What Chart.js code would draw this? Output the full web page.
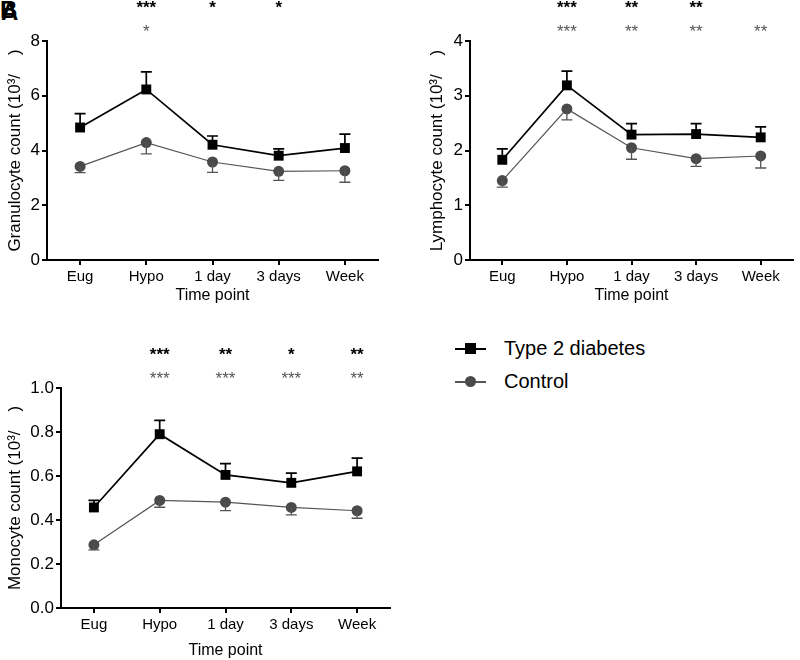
<!DOCTYPE html>
<html>
<head>
<meta charset="utf-8">
<script src="https://cdn.jsdelivr.net/npm/chart.js@4/dist/chart.umd.min.js"></script>
<style>
  html, body { margin: 0; padding: 0; background: #fff; }
  body { width: 800px; height: 660px; position: relative; overflow: hidden; font-family: "Liberation Sans", Arial, sans-serif; }
  canvas { position: absolute; }
  .tag { position: absolute; font-weight: bold; font-size: 24px; line-height: 24px; color: #000; }
  .leg { position: absolute; font-size: 20px; color: #000; }
  .legline { position: absolute; height: 2px; }
  .legsq { position: absolute; width: 11px; height: 11px; background: #000; }
  .legci { position: absolute; width: 11px; height: 11px; border-radius: 50%; background: #4a4a4a; }
</style>
</head>
<body>
<div class="tag" style="left:0px;top:-2px;">B</div>
<div class="tag" style="left:1px;top:0px;">A</div>
<canvas id="c1" width="400" height="305" style="left:0;top:0;"></canvas>
<canvas id="c2" width="400" height="305" style="left:400px;top:0;"></canvas>
<canvas id="c3" width="400" height="340" style="left:0;top:320px;"></canvas>

<div class="legline" style="left:455px;top:348px;width:31px;background:#000;"></div>
<div class="legsq" style="left:465px;top:343px;"></div>
<div class="leg" style="left:504px;top:337px;">Type 2 diabetes</div>
<div class="legline" style="left:455px;top:381px;width:31px;height:1.5px;background:#555;"></div>
<div class="legci" style="left:465px;top:376px;"></div>
<div class="leg" style="left:504px;top:370px;">Control</div>

<script>
const timepoints = ["Eug", "Hypo", "1 day", "3 days", "Week"];

// Granulocyte
const granT2D      = [4.84, 6.23, 4.21, 3.81, 4.09];
const granT2DErr   = [5.35, 6.87, 4.53, 4.06, 4.60];
const granCtrl     = [3.42, 4.29, 3.58, 3.24, 3.26];
const granCtrlErr  = [3.19, 3.88, 3.20, 2.91, 2.84];
const granStarsT2D  = ["", "***", "*", "*", ""];
const granStarsCtrl = ["", "*", "", "", ""];

// Lymphocyte
const lymT2D      = [1.83, 3.19, 2.29, 2.30, 2.24];
const lymT2DErr   = [2.03, 3.45, 2.49, 2.49, 2.43];
const lymCtrl     = [1.45, 2.76, 2.05, 1.85, 1.90];
const lymCtrlErr  = [1.33, 2.56, 1.84, 1.71, 1.68];
const lymStarsT2D  = ["", "***", "**", "**", ""];
const lymStarsCtrl = ["", "***", "**", "**", "**"];

// Monocyte
const monoT2D      = [0.457, 0.79, 0.605, 0.569, 0.621];
const monoT2DErr   = [0.489, 0.853, 0.656, 0.613, 0.681];
const monoCtrl     = [0.287, 0.489, 0.481, 0.457, 0.442];
const monoCtrlErr  = [0.264, 0.458, 0.443, 0.423, 0.408];
const monoStarsT2D  = ["", "***", "**", "*", "**"];
const monoStarsCtrl = ["", "***", "***", "***", "**"];

const FONT = '"Liberation Sans", Arial, sans-serif';

const errStarPlugin = {
  id: 'errStar',
  afterDatasetsDraw(chart, args, opts) {
    const ctx = chart.ctx;
    const xs = chart.scales.x, ys = chart.scales.y;
    ctx.save();
    opts.err.forEach(e => {
      ctx.strokeStyle = e.color;
      ctx.lineWidth = e.width;
      e.mean.forEach((m, i) => {
        const x = xs.getPixelForValue(i);
        const y0 = ys.getPixelForValue(m);
        const y1 = ys.getPixelForValue(e.end[i]);
        ctx.beginPath();
        ctx.moveTo(x, y0); ctx.lineTo(x, y1);
        ctx.moveTo(x - 5.5, y1); ctx.lineTo(x + 5.5, y1);
        ctx.stroke();
      });
    });
    ctx.textAlign = 'center';
    ctx.textBaseline = 'middle';
    opts.stars.forEach(s => {
      ctx.fillStyle = s.color;
      ctx.font = s.font;
      s.labels.forEach((t, i) => {
        if (!t) return;
        const x = xs.getPixelForValue(i);
        ctx.fillText(t, x, chart.chartArea.top + s.dy);
      });
    });
    ctx.restore();
  }
};

function makeChart(id, cfg) {
  const ctx = document.getElementById(id).getContext('2d');
  return new Chart(ctx, {
    type: 'line',
    data: {
      labels: timepoints,
      datasets: [
        {
          label: 'Type 2 diabetes',
          data: cfg.t2d,
          borderColor: '#000',
          backgroundColor: '#000',
          borderWidth: 1.7,
          pointStyle: 'rect',
          pointRadius: 7,
          pointBorderWidth: 0,
          tension: 0
        },
        {
          label: 'Control',
          data: cfg.ctrl,
          borderColor: '#555',
          backgroundColor: '#4a4a4a',
          borderWidth: 1.2,
          pointStyle: 'circle',
          pointRadius: 5.5,
          pointBorderWidth: 0,
          tension: 0
        }
      ]
    },
    options: {
      responsive: false,
      animation: false,
      layout: { padding: cfg.padding },
      plugins: {
        legend: { display: false },
        tooltip: { enabled: false },
        errStar: {
          err: [
            { mean: cfg.ctrl, end: cfg.ctrlErr, color: '#555', width: 1.3 },
            { mean: cfg.t2d, end: cfg.t2dErr, color: '#000', width: 1.7 }
          ],
          stars: [
            { labels: cfg.starsT2D, color: '#000', font: 'bold 17px ' + FONT, dy: -33 },
            { labels: cfg.starsCtrl, color: '#555', font: '17px ' + FONT, dy: -9 }
          ]
        }
      },
      scales: {
        x: {
          type: 'category',
          offset: true,
          border: { display: true, color: '#000', width: 2 },
          grid: { offset: false, drawOnChartArea: false, drawTicks: true, tickLength: 5, color: '#000', lineWidth: 2 },
          ticks: { color: '#000', font: { family: FONT, size: 15 }, padding: 3, maxRotation: 0 },
          title: { display: true, text: 'Time point', color: '#000', font: { family: FONT, size: 16 }, padding: { top: 2, bottom: 0 } },
          afterFit: s => { s.height = cfg.xh; }
        },
        y: {
          min: cfg.min, max: cfg.max,
          border: { display: true, color: '#000', width: 2 },
          grid: { drawOnChartArea: false, drawTicks: true, tickLength: 5, color: '#000', lineWidth: 2 },
          ticks: { color: '#000', font: { family: FONT, size: 17 }, padding: 2, stepSize: cfg.step, callback: cfg.fmt },
          title: { display: true, text: cfg.ytitle, color: '#000', font: { family: FONT, size: 17 }, padding: { top: 5, bottom: 0 } },
          afterFit: s => { s.width = cfg.yw; }
        }
      }
    },
    plugins: [errStarPlugin]
  });
}

makeChart('c1', {
  t2d: granT2D, t2dErr: granT2DErr, ctrl: granCtrl, ctrlErr: granCtrlErr,
  starsT2D: granStarsT2D, starsCtrl: granStarsCtrl,
  min: 0, max: 8, step: 2, fmt: v => v,
  ytitle: 'Granulocyte count (10\u00b3/    )',
  padding: { top: 41, right: 22, left: 0, bottom: 0 }, yw: 47, xh: 45
});
makeChart('c2', {
  t2d: lymT2D, t2dErr: lymT2DErr, ctrl: lymCtrl, ctrlErr: lymCtrlErr,
  starsT2D: lymStarsT2D, starsCtrl: lymStarsCtrl,
  min: 0, max: 4, step: 1, fmt: v => v,
  ytitle: 'Lymphocyte count (10\u00b3/    )',
  padding: { top: 41, right: 3, left: 22, bottom: 0 }, yw: 48, xh: 45
});
makeChart('c3', {
  t2d: monoT2D, t2dErr: monoT2DErr, ctrl: monoCtrl, ctrlErr: monoCtrlErr,
  starsT2D: monoStarsT2D, starsCtrl: monoStarsCtrl,
  min: 0, max: 1, step: 0.2, fmt: v => Number(v).toFixed(1),
  ytitle: 'Monocyte count (10\u00b3/    )',
  padding: { top: 68, right: 10, left: 0, bottom: 0 }, yw: 61, xh: 52
});
</script>
</body>
</html>
